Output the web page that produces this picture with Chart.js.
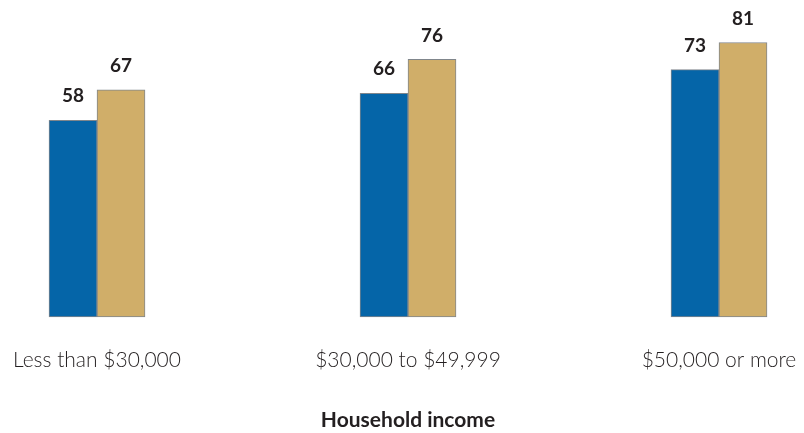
<!DOCTYPE html>
<html>
<head>
<meta charset="utf-8">
<script src="https://cdn.jsdelivr.net/npm/chart.js@4/dist/chart.umd.min.js"></script>
<style>
  html, body { margin: 0; padding: 0; background: #fff; }
  #wrap { width: 804px; height: 433px; }
</style>
</head>
<body>
<div id="wrap"><canvas id="incomeChart"></canvas></div>
<script>
const categories = ['Less than $30,000', '$30,000 to $49,999', '$50,000 or more'];
const seriesA = [58, 66, 73];
const seriesB = [67, 76, 81];

// value labels drawn above each bar
const barValues = {
    id: 'barValues',
    afterDatasetsDraw(chart) {
        const ctx = chart.ctx;
        ctx.save();
        ctx.font = 'bold 19px Lato, "Open Sans", sans-serif';
        ctx.fillStyle = '#231f20';
        ctx.textAlign = 'center';
        ctx.textBaseline = 'middle';
        chart.data.datasets.forEach((ds, i) => {
            chart.getDatasetMeta(i).data.forEach((bar, j) => {
                ctx.fillText(ds.data[j], bar.x, bar.y - 24);
            });
        });
        ctx.restore();
    }
};

new Chart(document.getElementById('incomeChart'), {
    type: 'bar',
    data: {
        labels: categories,
        datasets: [
            {
                data: seriesA,
                backgroundColor: '#0565a8',
                borderColor: '#80868c',
                borderWidth: 1,
                borderSkipped: false,
                barThickness: 48,
                clip: false
            },
            {
                data: seriesB,
                backgroundColor: '#d0ae69',
                borderColor: '#80868c',
                borderWidth: 1,
                borderSkipped: false,
                barThickness: 48,
                clip: false
            }
        ]
    },
    options: {
        responsive: true,
        maintainAspectRatio: false,
        animation: false,
        layout: {
            padding: { top: 12, left: 97, right: 85, bottom: 0 }
        },
        scales: {
            x: {
                offset: false,
                grid: { display: false, drawTicks: false },
                border: { display: false },
                ticks: {
                    padding: 3,
                    color: '#231f20',
                    // tall line box pushes the labels well below the bars
                    font: { family: 'Lato, "Open Sans", sans-serif', size: 21, weight: '300', lineHeight: '80px' }
                },
                title: {
                    display: true,
                    text: 'Household income',
                    color: '#231f20',
                    padding: { top: 5, bottom: 0 },
                    font: { family: 'Lato, "Open Sans", sans-serif', size: 21, weight: 'bold' }
                }
            },
            y: {
                display: false,
                min: 0,
                max: 90
            }
        },
        plugins: {
            legend: { display: false },
            tooltip: { enabled: false }
        }
    },
    plugins: [barValues]
});
</script>
</body>
</html>
